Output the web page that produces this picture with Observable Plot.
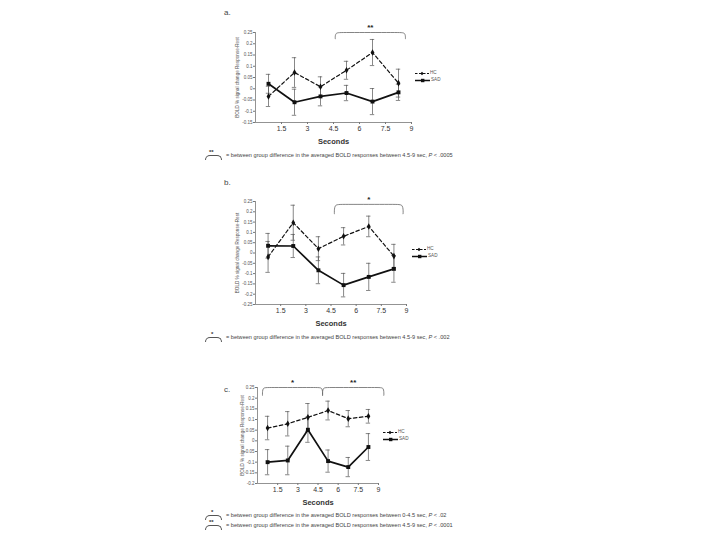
<!DOCTYPE html>
<html><head><meta charset="utf-8">
<script src="https://cdn.jsdelivr.net/npm/d3@7"></script>
<script src="https://cdn.jsdelivr.net/npm/@observablehq/plot@0.6"></script>
<style>
body{margin:0;background:#fff;}
#root{position:relative;width:720px;height:540px;overflow:hidden;font-family:"Liberation Sans",Arial,sans-serif;color:#333;}
.abs{position:absolute;white-space:nowrap;line-height:1;}
.plot{position:absolute;left:0;}
.plot svg{background:transparent;}
.br{position:absolute;width:15px;height:4px;border:0.8px solid #555;border-bottom:none;border-radius:5px 5px 0 0;}
.star{position:absolute;font-weight:bold;font-size:6px;line-height:1;}
</style></head><body><div id="root"></div>
<script>
// ---------- data ----------
const seconds = [0.75, 2.25, 3.75, 5.25, 6.75, 8.25];
const xTicks = [1.5, 3, 4.5, 6, 7.5, 9];
const yLabel = "BOLD % signal change Response-Rest";
const groups = ["HC", "SAD"];

// panel a
const aHC     = [-0.034, 0.072, 0.009, 0.082, 0.161, 0.025];
const aHCerr  = [0.045, 0.066, 0.044, 0.040, 0.058, 0.062];
const aSAD    = [0.022, -0.060, -0.034, -0.019, -0.057, -0.016];
const aSADerr = [0.042, 0.058, 0.042, 0.034, 0.058, 0.036];
const aYTicks = [-0.15, -0.1, -0.05, 0, 0.05, 0.1, 0.15, 0.2, 0.25];
const aBrackets = [{from: 4.6, to: 8.65, top: 0.25, end: 0.222, label: "**", ly: 0.272}];
const aNotes = [{stars: "**", text: "= between group difference in the averaged BOLD responses between 4.5-9 sec, ", p: "P", val: " < .0005"}];

// panel b
const bHC     = [-0.019, 0.147, 0.021, 0.081, 0.129, -0.015];
const bHCerr  = [0.075, 0.085, 0.058, 0.042, 0.050, 0.057];
const bSAD    = [0.035, 0.034, -0.084, -0.156, -0.116, -0.077];
const bSADerr = [0.060, 0.056, 0.065, 0.057, 0.066, 0.065];
const bYTicks = [-0.25, -0.2, -0.15, -0.1, -0.05, 0, 0.05, 0.1, 0.15, 0.2, 0.25];
const bBrackets = [{from: 4.7, to: 8.8, top: 0.236, end: 0.19, label: "*", ly: 0.262}];
const bNotes = [{stars: "*", text: "= between group difference in the averaged BOLD responses between 4.5-9 sec, ", p: "P", val: " < .002"}];

// panel c
const cHC     = [0.060, 0.080, 0.110, 0.142, 0.104, 0.115];
const cHCerr  = [0.055, 0.057, 0.065, 0.044, 0.038, 0.032];
const cSAD    = [-0.100, -0.092, 0.052, -0.095, -0.123, -0.029];
const cSADerr = [0.059, 0.067, 0.059, 0.052, 0.045, 0.063];
const cYTicks = [-0.2, -0.15, -0.1, -0.05, 0, 0.05, 0.1, 0.15, 0.2, 0.25];
const cBrackets = [
  {from: 0.37, to: 4.84, top: 0.25, end: 0.213, label: "*", ly: 0.274},
  {from: 4.84, to: 9.4, top: 0.25, end: 0.213, label: "**", ly: 0.274}
];
const cNotes = [
  {stars: "*", text: "= between group difference in the averaged BOLD responses between 0-4.5 sec, ", p: "P", val: " < .02"},
  {stars: "**", text: "= between group difference in the averaged BOLD responses between 4.5-9 sec, ", p: "P", val: " < .0001"}
];

// ---------- layout ----------
const panels = [
  {tag: "a.", hc: aHC, hce: aHCerr, sad: aSAD, sade: aSADerr, ticks: aYTicks, brackets: aBrackets, notes: aNotes,
   top: 0, mt: 32, plotH: 90, ml: 255, xr: 411, ydx: -18, tagY: 9, legX: 415, legY: 71, noteY: [153]},
  {tag: "b.", hc: bHC, hce: bHCerr, sad: bSAD, sade: bSADerr, ticks: bYTicks, brackets: bBrackets, notes: bNotes,
   top: 170, mt: 31, plotH: 103, ml: 255, xr: 406, ydx: -18, tagY: 179, legX: 412, legY: 247, noteY: [335]},
  {tag: "c.", hc: cHC, hce: cHCerr, sad: cSAD, sade: cSADerr, ticks: cYTicks, brackets: cBrackets, notes: cNotes,
   top: 360, mt: 27, plotH: 96, ml: 257, xr: 378, ydx: -15, tagY: 386, legX: 383, legY: 430, noteY: [513, 523]}
];

const root = document.getElementById("root");

function legendHTML(x, y) {
  const hc = `<div class="abs" style="left:${x}px;top:${y}px;font-size:4.6px;color:#555;display:flex;align-items:center;gap:1px">
    <svg width="14" height="5"><line x1="0" y1="2.5" x2="14" y2="2.5" stroke="#111" stroke-width="1" stroke-dasharray="2.5,1.5"/><path d="M7,0.8L8.7,2.5L7,4.2L5.3,2.5Z" fill="#111"/></svg><span>HC</span></div>`;
  const sad = `<div class="abs" style="left:${x}px;top:${y + 6.5}px;font-size:4.6px;color:#555;display:flex;align-items:center;gap:1px">
    <svg width="15" height="5"><line x1="0" y1="2.5" x2="15" y2="2.5" stroke="#111" stroke-width="1.5"/><rect x="6" y="0.8" width="3.4" height="3.4" fill="#111"/></svg><span>SAD</span></div>`;
  return hc + sad;
}

panels.forEach(p => {
  const data = seconds.flatMap((s, i) => [
    {x: s, y: p.hc[i], e: p.hce[i], g: groups[0]},
    {x: s, y: p.sad[i], e: p.sade[i], g: groups[1]}
  ]);
  const hcD = data.filter(d => d.g === "HC");
  const sadD = data.filter(d => d.g === "SAD");
  const ymin = d3.min(p.ticks), ymax = d3.max(p.ticks);
  const xspan = 9 / (p.xr - p.ml);
  const cap = 2.2 * xspan;
  const bpts = p.brackets.flatMap((b, i) => {
    const r = 0.35;
    return [
      {id: i, x: b.from, y: b.end}, {id: i, x: b.from, y: b.end},
      {id: i, x: b.from, y: b.top}, {id: i, x: b.from + r, y: b.top},
      {id: i, x: b.to - r, y: b.top}, {id: i, x: b.to, y: b.top},
      {id: i, x: b.to, y: b.end}, {id: i, x: b.to, y: b.end}
    ];
  });
  const mb = 30;
  const chart = Plot.plot({
    width: 720,
    height: p.mt + p.plotH + mb,
    marginTop: p.mt, marginBottom: mb, marginLeft: p.ml, marginRight: 720 - p.xr,
    x: {domain: [0, 9], label: null},
    y: {domain: [ymin, ymax], label: null},
    style: {fontFamily: "'Liberation Sans', Arial, sans-serif", background: "transparent", color: "#333", overflow: "visible"},
    marks: [
      Plot.ruleX([0], {y1: ymin, y2: ymax, stroke: "#777", strokeWidth: 0.8}),
      Plot.ruleY([ymin], {x1: 0, x2: 9, stroke: "#777", strokeWidth: 0.8}),
      Plot.axisY(p.ticks, {tickSize: 2, tickPadding: 1, fontSize: 4.5, stroke: "#777", fill: "#555",
        tickFormat: d => String(+d.toFixed(2))}),
      Plot.axisX(xTicks, {tickSize: 2, tickPadding: 2, fontSize: 7, stroke: "#777", fill: "#333",
        tickFormat: d => String(d)}),
      Plot.text([yLabel], {frameAnchor: "left", textAnchor: "middle", rotate: -90, dx: p.ydx, fontSize: 4.6, fill: "#555"}),
      Plot.text(["Seconds"], {frameAnchor: "bottom", dy: 21, fontSize: 7.5, fontWeight: "bold", fill: "#333"}),
      Plot.ruleX(data, {x: "x", y1: d => d.y - d.e, y2: d => d.y + d.e, stroke: "#555", strokeWidth: 0.7}),
      Plot.ruleY(data, {y: d => d.y + d.e, x1: d => d.x - cap, x2: d => d.x + cap, stroke: "#555", strokeWidth: 0.7}),
      Plot.ruleY(data, {y: d => d.y - d.e, x1: d => d.x - cap, x2: d => d.x + cap, stroke: "#555", strokeWidth: 0.7}),
      Plot.line(hcD, {x: "x", y: "y", stroke: "#111", strokeWidth: 1.2, strokeDasharray: "3.5,2.5"}),
      Plot.line(sadD, {x: "x", y: "y", stroke: "#111", strokeWidth: 1.7}),
      Plot.dot(hcD, {x: "x", y: "y", symbol: "diamond", r: 2, fill: "#111"}),
      Plot.dot(sadD, {x: "x", y: "y", symbol: "square", r: 2.2, fill: "#111"}),
      Plot.line(bpts, {x: "x", y: "y", z: "id", curve: "basis", stroke: "#666", strokeWidth: 0.8}),
      Plot.text(p.brackets, {x: d => (d.from + d.to) / 2, y: "ly", text: "label", fontSize: 8, fontWeight: "bold", fill: "#222"})
    ]
  });
  const wrap = document.createElement("div");
  wrap.className = "plot";
  wrap.style.top = p.top + "px";
  wrap.appendChild(chart);
  root.appendChild(wrap);

  // panel tag
  const tag = document.createElement("div");
  tag.className = "abs";
  tag.style.cssText = `left:224px;top:${p.tagY}px;font-size:8px;color:#444;`;
  tag.textContent = p.tag;
  root.appendChild(tag);

  // legend
  const leg = document.createElement("div");
  leg.innerHTML = legendHTML(p.legX, p.legY);
  root.appendChild(leg);

  // footnotes
  p.notes.forEach((n, i) => {
    const y = p.noteY[i];
    const div = document.createElement("div");
    div.innerHTML = `<div class="star" style="left:${n.stars.length > 1 ? 209 : 211}px;top:${y - 4}px">${n.stars}</div>
      <div class="br" style="left:205px;top:${y + 1.5}px"></div>
      <div class="abs" style="left:226px;top:${y}px;font-size:5.6px;color:#444">${n.text}<i>${n.p}</i>${n.val}</div>`;
    root.appendChild(div);
  });
});
</script></body></html>
